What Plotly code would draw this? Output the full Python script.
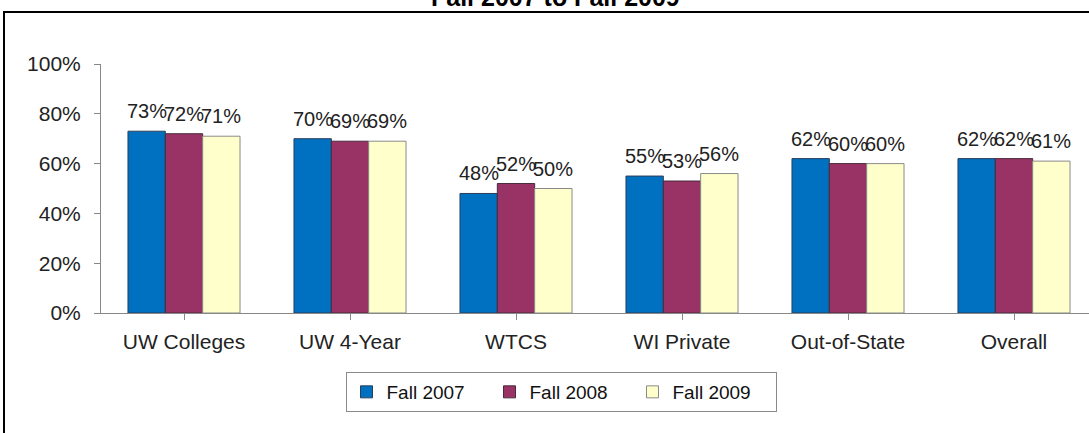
import plotly.graph_objects as go

categories = ["UW Colleges", "UW 4-Year", "WTCS", "WI Private", "Out-of-State", "Overall"]
series_names = ["Fall 2007", "Fall 2008", "Fall 2009"]
fall_2007 = [73, 70, 48, 55, 62, 62]
fall_2008 = [72, 69, 52, 53, 60, 62]
fall_2009 = [71, 69, 50, 56, 60, 61]
y_ticks = [0, 20, 40, 60, 80, 100]
title_text = "Fall 2007 to Fall 2009"

colors = ["#0070C0", "#993366", "#FFFFCC"]
outline = ["#2a3f5a", "#4a2a3a", "#8a8a8a"]

W, H = 1089, 433
L, R, T, B = 101, 0, 64, 120
pw, ph = W - L - R, H - T - B

def px_x(p):
    return (p - L) / pw

def px_y(p):
    return (H - B - p) / ph

fig = go.Figure()
series = [fall_2007, fall_2008, fall_2009]
for name, vals, c, oc in zip(series_names, series, colors, outline):
    fig.add_trace(go.Bar(
        name=name, x=list(range(len(categories))), y=vals,
        marker=dict(color=c, line=dict(color=oc, width=1)),
    ))

bargap = 0.325
bw = (1 - bargap) / 3
annotations = []
for j, vals in enumerate(series):
    for i, v in enumerate(vals):
        annotations.append(dict(
            x=i + (j - 1) * bw, y=v, xref="x", yref="y",
            text=f"{v}%", showarrow=False, yanchor="bottom", yshift=7,
            font=dict(family="Arial, Liberation Sans, sans-serif", size=20, color="#222"),
        ))

annotations.append(dict(
    x=px_x(555), y=px_y(-3), xref="paper", yref="paper", text=f"<b>{title_text}</b>",
    showarrow=False, xanchor="center", yanchor="middle",
    font=dict(family="Arial, Liberation Sans, sans-serif", size=25, color="#000"),
))

fig.update_layout(
    width=W, height=H,
    margin=dict(l=L, r=R, t=T, b=B, pad=0),
    paper_bgcolor="white", plot_bgcolor="white",
    barmode="group", bargap=bargap, bargroupgap=0,
    font=dict(family="Arial, Liberation Sans, sans-serif", size=20, color="#222"),
    showlegend=True,
    legend=dict(
        orientation="h", x=px_x(561), y=px_y(372), xanchor="center", yanchor="top",
        bordercolor="#8a8a8a", borderwidth=1, font=dict(size=19, color="#111"),
        entrywidth=98, itemwidth=30, tracegroupgap=0,
    ),
    annotations=annotations,
    shapes=[dict(
        type="rect", xref="paper", yref="paper",
        x0=px_x(4), x1=px_x(1100), y0=px_y(445), y1=px_y(12),
        line=dict(color="#000", width=2), fillcolor="rgba(0,0,0,0)", layer="below",
    )],
)

fig.update_xaxes(
    range=[-0.5, -0.5 + pw / 166], tickvals=list(range(len(categories))), ticktext=categories,
    showline=True, linecolor="#888", linewidth=1, ticks="outside", tickson="boundaries",
    ticklen=6, tickcolor="#888", showgrid=False, zeroline=False, ticklabelstandoff=4,
    tickfont=dict(size=21, color="#222"),
)
fig.update_yaxes(
    range=[0, 100], tickvals=y_ticks, ticktext=[f"{t}%" for t in y_ticks],
    showline=True, linecolor="#888", linewidth=1, ticks="outside", ticklen=6,
    tickcolor="#888", showgrid=False, zeroline=False, ticklabelstandoff=9,
    tickfont=dict(size=21, color="#222"),
)

fig.write_html("out.html", post_script="document.body.style.margin='0';",
               config={"displayModeBar": False})
